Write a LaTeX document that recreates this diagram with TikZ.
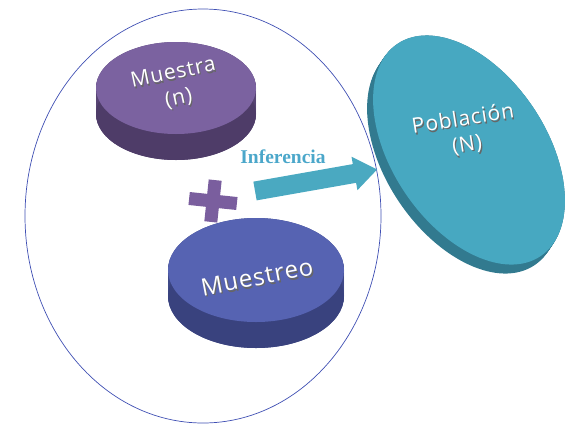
\documentclass[tikz,border=0pt]{standalone}
\usepackage{fontspec}
\setmainfont{Liberation Serif}
\newfontfamily\diskfont[LetterSpace=4]{Open Sans}
\usetikzlibrary{shapes.geometric}
\definecolor{muTop}{HTML}{7B62A0}
\definecolor{muSide}{HTML}{4E3C68}
\definecolor{meTop}{HTML}{5663B2}
\definecolor{meSide}{HTML}{39427E}
\definecolor{poTop}{HTML}{47A8C1}
\definecolor{poSide}{HTML}{2D6F82}
\definecolor{arrowC}{HTML}{4AA9C1}
\definecolor{infC}{HTML}{4BA7CA}
\definecolor{ringC}{HTML}{3F4FB3}
\definecolor{plusC}{HTML}{7A5E9E}
\begin{document}
\begin{tikzpicture}[x=1pt,y=-1pt,
  disktop/.style={ellipse,inner sep=0pt,draw=none},
  disklabel/.style={font=\diskfont\fontsize{21}{26}\selectfont, text=white, align=center, inner sep=0pt},
  diskshadow/.style={font=\diskfont\fontsize{21}{26}\selectfont, text=black!60, align=center, inner sep=0pt}]
\useasboundingbox (0,0) rectangle (573,432);
% outer ring
\draw[ringC, line width=0.7pt] (203,216) ellipse [x radius=178, y radius=207];
% Muestra disk
\foreach \t in {0,1,...,26}
  \fill[muSide!80!muTop] (176,88+\t) ellipse [x radius=80, y radius=46];
\fill[muSide] (176,114) ellipse [x radius=80, y radius=46];
\node[disktop, fill=muTop, minimum width=160pt, minimum height=92pt] (mus) at (176,88) {};
% Muestreo disk
\foreach \t in {0,1,...,26}
  \fill[meSide!80!meTop] (256,270+\t) ellipse [x radius=88, y radius=52];
\fill[meSide] (256,296) ellipse [x radius=88, y radius=52];
\node[disktop, fill=meTop, minimum width=176pt, minimum height=104pt] (mst) at (256,270) {};
% Poblacion disk
\foreach \t in {0,1,...,10}
  \fill[poSide!80!poTop, rotate around={-56:(469-0.6*\t,150+0.9*\t)}] (469-0.6*\t,150+0.9*\t) ellipse [x radius=128, y radius=77];
\node[disktop, fill=poTop, minimum width=256pt, minimum height=154pt, rotate=-56] (pob) at (469,150) {};
% plus sign
\begin{scope}[shift={(213,201)}, rotate=-6]
  \fill[plusC] (-24,-6.5) rectangle (24,6.5);
  \fill[plusC] (-6.5,-21) rectangle (6.5,21);
\end{scope}
% arrow
\begin{scope}[shift={(255,191)}, rotate=10]
  \fill[arrowC] (0,-9.5) -- (101,-9.5) -- (101,-17) -- (124,0) -- (101,17) -- (101,9.5) -- (0,9.5) -- cycle;
\end{scope}
\node[font=\bfseries\fontsize{19.5}{22}\selectfont, text=infC, inner sep=0pt] (inf) at (283,157) {Inferencia};
% labels
\node[diskshadow, rotate=12] (musS) at (177.2,87.6) {Muestra\\(n)};
\node[disklabel, rotate=12] (musL) at (176,86) {Muestra\\(n)};
\node[diskshadow, font=\diskfont\fontsize{24}{28}\selectfont, rotate=11] (mstS) at (258.3,278.8) {Muestreo};
\node[disklabel, font=\diskfont\fontsize{24}{28}\selectfont, rotate=11] (mstL) at (257,277) {Muestreo};
\node[diskshadow, rotate=9] (pobS) at (466.2,133.6) {Población\\(N)};
\node[disklabel, rotate=9] (pobL) at (465,132) {Población\\(N)};
\end{tikzpicture}
\end{document}
